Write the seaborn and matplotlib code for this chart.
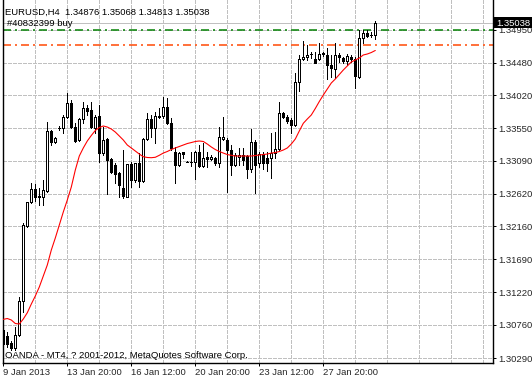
import numpy as np
import pandas as pd
import matplotlib
matplotlib.use("Agg")
import matplotlib.pyplot as plt
from matplotlib.patches import Rectangle
import seaborn as sns

# ---------------- data (EURUSD H4) ----------------
opens = [1.30688, 1.30603, 1.30503, 1.30432, 1.30617, 1.31099, 1.32163, 1.32499, 1.32684, 1.32589,
         1.32575, 1.32664, 1.33511, 1.33355, 1.33557, 1.33549, 1.33705, 1.33912, 1.33563, 1.33383,
         1.33677, 1.33833, 1.33808, 1.33549, 1.33724, 1.33194, 1.33397, 1.33113, 1.33028, 1.32915,
         1.32706, 1.32579, 1.33043, 1.32815, 1.33061, 1.32806, 1.33393, 1.33677, 1.33549, 1.33724,
         1.33724, 1.33855, 1.33629, 1.33217, 1.33028, 1.33208, 1.33075, 1.33075, 1.33075, 1.33217,
         1.33014, 1.33138, 1.33113, 1.33123, 1.33053, 1.33393, 1.33383, 1.33241, 1.33028, 1.33146,
         1.33170, 1.33156, 1.32967, 1.33359, 1.33053, 1.33184, 1.33123, 1.33123, 1.33194, 1.33251,
         1.33770, 1.33714, 1.33667, 1.33596, 1.34201, 1.34528, 1.34556, 1.34599, 1.34528, 1.34528,
         1.34599, 1.34589, 1.34447, 1.34386, 1.34589, 1.34542, 1.34508, 1.34565, 1.34528, 1.34281,
         1.34826, 1.34905, 1.34872, 1.34876]
highs = [1.30773, 1.30659, 1.30532, 1.30730, 1.31156, 1.32205, 1.32508, 1.32777, 1.32759, 1.32698,
         1.32815, 1.33643, 1.33525, 1.33430, 1.33582, 1.33738, 1.34045, 1.33950, 1.33620, 1.33691,
         1.33926, 1.33880, 1.33926, 1.33738, 1.33880, 1.33572, 1.33407, 1.33123, 1.33053, 1.32933,
         1.33241, 1.33043, 1.33075, 1.33061, 1.33194, 1.33407, 1.33770, 1.33738, 1.33784, 1.33833,
         1.33997, 1.33974, 1.33691, 1.33288, 1.33217, 1.33217, 1.33085, 1.33217, 1.33220, 1.33312,
         1.33336, 1.33217, 1.33170, 1.33146, 1.33572, 1.33714, 1.33407, 1.33312, 1.33194, 1.33265,
         1.33265, 1.33170, 1.33535, 1.33383, 1.33217, 1.33217, 1.33217, 1.33478, 1.33501, 1.33926,
         1.33784, 1.33738, 1.33691, 1.34329, 1.34589, 1.34792, 1.34731, 1.34636, 1.34636, 1.34763,
         1.34636, 1.34684, 1.34589, 1.34755, 1.34621, 1.34565, 1.34603, 1.34589, 1.34556, 1.34943,
         1.34943, 1.34943, 1.34915, 1.35068]
lows = [1.30404, 1.30447, 1.30404, 1.30404, 1.30603, 1.30943, 1.32149, 1.32489, 1.32518, 1.32461,
        1.32461, 1.32650, 1.33312, 1.33336, 1.33525, 1.33487, 1.33691, 1.33549, 1.33359, 1.33369,
        1.33620, 1.33738, 1.33549, 1.33478, 1.33075, 1.33170, 1.32617, 1.32911, 1.32769, 1.32579,
        1.32556, 1.32570, 1.32720, 1.32791, 1.32720, 1.32791, 1.33383, 1.33430, 1.33336, 1.33691,
        1.33691, 1.33610, 1.33241, 1.32777, 1.33014, 1.33123, 1.33064, 1.33014, 1.32825, 1.33004,
        1.32996, 1.33004, 1.33099, 1.33028, 1.32996, 1.33383, 1.32650, 1.32886, 1.33014, 1.33028,
        1.33028, 1.32840, 1.32933, 1.32627, 1.33004, 1.32967, 1.32947, 1.32840, 1.33123, 1.33241,
        1.33691, 1.33620, 1.33478, 1.33582, 1.34082, 1.34518, 1.34518, 1.34542, 1.34471, 1.34518,
        1.34575, 1.34244, 1.34281, 1.34258, 1.34494, 1.34471, 1.34447, 1.34494, 1.34116, 1.34258,
        1.34755, 1.34840, 1.34848, 1.34813]
closes = [1.30489, 1.30489, 1.30432, 1.30617, 1.31099, 1.32177, 1.32499, 1.32684, 1.32579, 1.32570,
          1.32674, 1.33511, 1.33355, 1.33411, 1.33555, 1.33714, 1.33912, 1.33563, 1.33373, 1.33677,
          1.33833, 1.33799, 1.33563, 1.33714, 1.33194, 1.33383, 1.33099, 1.32933, 1.32901, 1.32745,
          1.32589, 1.33043, 1.32815, 1.33057, 1.32806, 1.33393, 1.33677, 1.33549, 1.33724, 1.33705,
          1.33855, 1.33620, 1.33265, 1.33028, 1.33203, 1.33184, 1.33073, 1.33077, 1.33217, 1.33014,
          1.33123, 1.33113, 1.33138, 1.33053, 1.33421, 1.33421, 1.33241, 1.33028, 1.33170, 1.33170,
          1.33099, 1.32967, 1.33359, 1.33028, 1.33184, 1.33053, 1.33053, 1.33194, 1.33251, 1.33770,
          1.33714, 1.33657, 1.33596, 1.34210, 1.34528, 1.34556, 1.34589, 1.34601, 1.34480, 1.34599,
          1.34613, 1.34447, 1.34400, 1.34589, 1.34556, 1.34508, 1.34575, 1.34528, 1.34291, 1.34826,
          1.34905, 1.34858, 1.34874, 1.35038]
ma_values = [1.30839, 1.30851, 1.30830, 1.30780, 1.30773, 1.30844, 1.30933, 1.31056, 1.31170, 1.31298,
             1.31454, 1.31610, 1.31822, 1.31993, 1.32177, 1.32362, 1.32532, 1.32716, 1.32957, 1.33156,
             1.33270, 1.33369, 1.33447, 1.33518, 1.33560, 1.33582, 1.33567, 1.33539, 1.33496, 1.33440,
             1.33383, 1.33312, 1.33270, 1.33227, 1.33184, 1.33146, 1.33135, 1.33132, 1.33138, 1.33166,
             1.33198, 1.33220, 1.33248, 1.33270, 1.33291, 1.33312, 1.33333, 1.33347, 1.33362, 1.33369,
             1.33362, 1.33326, 1.33284, 1.33248, 1.33220, 1.33198, 1.33177, 1.33166, 1.33156, 1.33156,
             1.33156, 1.33156, 1.33156, 1.33163, 1.33170, 1.33177, 1.33184, 1.33198, 1.33205, 1.33220,
             1.33241, 1.33270, 1.33326, 1.33397, 1.33511, 1.33620, 1.33681, 1.33738, 1.33830, 1.33929,
             1.34021, 1.34106, 1.34192, 1.34248, 1.34312, 1.34376, 1.34433, 1.34490, 1.34518, 1.34546,
             1.34589, 1.34603, 1.34624, 1.34653]

price_ticks = [1.30290, 1.30760, 1.31220, 1.31690, 1.32160, 1.32620,
               1.33090, 1.33550, 1.34020, 1.34480, 1.34950]
price_tick_labels = ["1.30290", "1.30760", "1.31220", "1.31690", "1.32160", "1.32620",
                     "1.33090", "1.33550", "1.34020", "1.34480", "1.34950"]
date_tick_bars = [0, 16, 32, 48, 64, 80]
date_tick_labels = ["9 Jan 2013", "13 Jan 20:00", "16 Jan 12:00",
                    "20 Jan 20:00", "23 Jan 12:00", "27 Jan 20:00"]
bid_price = 1.35038
order_price = 1.34945
stop_price = 1.34731
header = "EURUSD,H4  1.34876 1.35068 1.34813 1.35038"
order_label = "#40832399 buy"
footer = "OANDA - MT4, ? 2001-2012, MetaQuotes Software Corp."

# ---------------- style ----------------
sns.set_theme(style="white")
plt.rcParams["font.family"] = ["Liberation Sans", "DejaVu Sans"]
plt.rcParams["lines.scale_dashes"] = False
FS = 6.8
PX = 72 / 100.0  # one pixel in points

W, H = 532, 379
fig = plt.figure(figsize=(W / 100, H / 100), dpi=100)
fig.patch.set_facecolor("white")
ax = fig.add_axes([2.5 / W, (H - 362.5) / H, 490 / W, 362.5 / H])
ax.set_facecolor("white")

bars = np.arange(len(opens))
o = np.array(opens); c = np.array(closes)
hi = np.array(highs); lo = np.array(lows)
up = c >= o
body_lo = np.minimum(o, c)
body_h = np.abs(c - o)

# grid
grid_kw = dict(color="#C0C0C0", linewidth=PX, linestyle=(0, (3 * PX, 2 * PX)),
               antialiased=False)
for p in price_ticks:
    ax.axhline(p, zorder=0, **grid_kw)
for b in range(8, 121, 8):
    ax.axvline(b, zorder=0, **grid_kw)

# bid line and order lines
ax.axhline(bid_price, color="#C0C0C0", linewidth=1.0 * PX, zorder=1, antialiased=False)
ax.axhline(order_price, color="#008000", linewidth=1.5 * PX, zorder=1,
           linestyle=(0, (8 * PX, 4 * PX, 2 * PX, 4 * PX)))
ax.axhline(stop_price, color="#FF4500", linewidth=1.5 * PX, zorder=1,
           linestyle=(0, (8 * PX, 4 * PX, 2 * PX, 4 * PX)))

# candles
ax.vlines(bars, lo, hi, color="black", linewidth=PX, zorder=3, antialiased=False)
ax.bar(bars[up], body_h[up], bottom=body_lo[up], width=0.5, facecolor="white",
       edgecolor="black", linewidth=PX, zorder=4, antialiased=False)
ax.bar(bars[~up], body_h[~up], bottom=body_lo[~up], width=0.5, facecolor="black",
       edgecolor="black", linewidth=PX, zorder=4, antialiased=False)

# moving average
ma_df = pd.DataFrame({"bar": bars, "ma": ma_values})
sns.lineplot(data=ma_df, x="bar", y="ma", ax=ax, color="#FF0000", linewidth=1.1 * PX,
             zorder=5, legend=False)

# axes
ax.set_xlim((2.5 - 3.3) / 4, (492.5 - 3.3) / 4)
ax.set_ylim(1.30227, 1.35369)
ax.set_xlabel(""); ax.set_ylabel("")
ax.yaxis.tick_right()
ax.set_yticks(price_ticks)
ax.set_yticklabels(price_tick_labels)
ax.set_xticks(date_tick_bars)
ax.set_xticklabels(date_tick_labels)
for lbl in ax.get_xticklabels():
    lbl.set_horizontalalignment("left")
ax.tick_params(axis="x", direction="out", length=3 * PX, width=PX, color="black",
               labelsize=FS, pad=2, bottom=True)
ax.tick_params(axis="y", direction="out", length=3 * PX, width=PX, color="black",
               labelsize=FS, pad=2, right=True, left=False)
for side in ["left", "right", "bottom"]:
    ax.spines[side].set_color("black")
    ax.spines[side].set_linewidth(1.4 * PX)
ax.spines["top"].set_visible(False)
ax.grid(False)

# texts
fig.text(5 / W, 1 - 15 / H, header, ha="left", va="baseline", fontsize=FS, color="black")
fig.text(7 / W, 1 - 26.5 / H, order_label, ha="left", va="baseline", fontsize=FS, color="black")
fig.text(5 / W, 1 - 357.5 / H, footer, ha="left", va="baseline", fontsize=FS, color="black")

# current price box
fig.add_artist(Rectangle((492.5 / W, 1 - 27.5 / H), 40 / W, 10.5 / H,
                         transform=fig.transFigure, facecolor="black",
                         edgecolor="none", zorder=10))
fig.text(496.5 / W, 1 - 26 / H, "1.35038", ha="left", va="baseline", fontsize=FS,
         color="white", zorder=11)

fig.savefig("out.png", dpi=100, facecolor="white")
